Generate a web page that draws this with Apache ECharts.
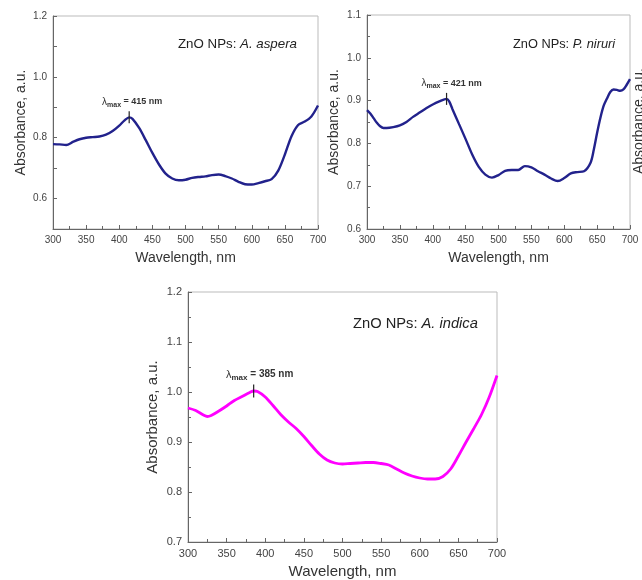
<!DOCTYPE html>
<html>
<head>
<meta charset="utf-8">
<script src="https://cdn.jsdelivr.net/npm/echarts@6/dist/echarts.min.js"></script>
<style>
  html, body { margin: 0; padding: 0; background: #fff; }
  #chart { width: 642px; height: 580px; }
</style>
</head>
<body>
<div id="chart"></div>
<script>
// A. aspera
const asperaNm = [300, 310, 320, 330, 340, 350, 360, 370, 380, 390, 400, 408, 415, 420, 430, 440, 450, 460, 470, 480, 490, 500, 510, 520, 530, 540, 550, 560, 570, 580, 590, 600, 610, 620, 630, 640, 650, 660, 670, 680, 690, 700]
const asperaAbs = [0.779, 0.778, 0.776, 0.786, 0.795, 0.800, 0.802, 0.804, 0.810, 0.822, 0.840, 0.857, 0.867, 0.862, 0.832, 0.792, 0.750, 0.712, 0.682, 0.666, 0.660, 0.662, 0.668, 0.671, 0.673, 0.677, 0.679, 0.674, 0.666, 0.655, 0.647, 0.646, 0.651, 0.657, 0.664, 0.692, 0.745, 0.805, 0.842, 0.853, 0.870, 0.906]

// P. niruri
const niruriNm = [300, 305, 310, 315, 320, 325, 330, 340, 350, 360, 370, 380, 390, 400, 410, 421, 425, 430, 440, 450, 460, 470, 480, 490, 500, 510, 520, 530, 540, 550, 560, 570, 580, 590, 600, 610, 620, 630, 640, 645, 650, 655, 660, 665, 670, 675, 680, 685, 690, 695, 700]
const niruriAbs = [0.878, 0.870, 0.859, 0.848, 0.840, 0.836, 0.836, 0.838, 0.842, 0.850, 0.862, 0.872, 0.882, 0.891, 0.898, 0.904, 0.898, 0.880, 0.845, 0.810, 0.774, 0.745, 0.727, 0.720, 0.726, 0.736, 0.738, 0.738, 0.747, 0.744, 0.735, 0.727, 0.718, 0.712, 0.719, 0.730, 0.733, 0.735, 0.755, 0.786, 0.825, 0.860, 0.888, 0.905, 0.920, 0.926, 0.925, 0.923, 0.926, 0.937, 0.950]

// A. indica
const indicaNm = [300, 310, 320, 325, 330, 340, 350, 360, 370, 380, 385, 390, 400, 410, 420, 430, 440, 450, 460, 470, 480, 490, 500, 510, 520, 530, 540, 550, 560, 570, 580, 590, 600, 610, 620, 630, 640, 650, 660, 670, 680, 690, 700]
const indicaAbs = [0.968, 0.963, 0.954, 0.951, 0.953, 0.962, 0.972, 0.983, 0.991, 0.999, 1.002, 1.001, 0.990, 0.973, 0.955, 0.940, 0.927, 0.911, 0.893, 0.876, 0.864, 0.858, 0.856, 0.857, 0.858, 0.859, 0.859, 0.857, 0.854, 0.846, 0.838, 0.832, 0.828, 0.826, 0.826, 0.831, 0.846, 0.872, 0.900, 0.927, 0.955, 0.990, 1.033]

// peaks: [wavelength, absorbance]
const peakAspera = [415, 0.867]
const peakNiruri = [421, 0.904]
const peakIndica = [385, 1.002]

const zip = (xs, ys) => xs.map((x, i) => [x, ys[i]])

const font = 'Liberation Sans, Arial, sans-serif'
const tickColor = '#444'

function xAxisFor(gridIndex, fontSize, nameSize, nameGap) {
  return {
    gridIndex,
    type: 'value',
    min: 300, max: 700, interval: 50,
    name: 'Wavelength, nm',
    nameLocation: 'middle',
    nameGap,
    nameTextStyle: { fontFamily: font, fontSize: nameSize, color: '#333' },
    axisLine: { lineStyle: { color: '#666', width: 1 } },
    axisTick: { inside: true, length: 4, lineStyle: { color: '#666' } },
    minorTick: { show: true, splitNumber: 2, length: 3, lineStyle: { color: '#666' } },
    axisLabel: { fontFamily: font, fontSize, color: tickColor, margin: 6 },
    splitLine: { show: false }
  }
}

function yAxisFor(gridIndex, min, max, interval, fontSize, nameSize, nameGap, labelStep) {
  return {
    gridIndex,
    type: 'value',
    min, max, interval,
    name: 'Absorbance, a.u.',
    nameLocation: 'middle',
    nameGap,
    nameTextStyle: { fontFamily: font, fontSize: nameSize, color: '#333' },
    axisLine: { show: true, lineStyle: { color: '#666', width: 1 } },
    axisTick: { inside: true, length: 4, lineStyle: { color: '#666' } },
    minorTick: { show: labelStep === 1, splitNumber: 2, length: 3, lineStyle: { color: '#666' } },
    axisLabel: {
      fontFamily: font, fontSize, color: tickColor, margin: 6,
      formatter: v => (Math.round(v * 10) % labelStep === 0 ? v.toFixed(1) : '')
    },
    splitLine: { show: false }
  }
}

function peakMark(peak, fontSize, dx) {
  return {
    symbol: 'rect',
    symbolSize: [1.2, fontSize + 3],
    silent: true,
    itemStyle: { color: '#222' },
    label: {
      show: true,
      position: 'top',
      distance: 3,
      offset: [dx, 0],
      formatter: '{l|λ}{s|max}{b| = ' + peak[0] + ' nm}',
      rich: {
        l: { fontFamily: font, fontSize: fontSize + 1, color: '#333' },
        s: { fontFamily: font, fontSize: fontSize - 2, fontWeight: 'bold', color: '#333', verticalAlign: 'bottom', padding: [6, 0, 0, 0] },
        b: { fontFamily: font, fontSize, fontWeight: 'bold', color: '#333' }
      }
    },
    data: [{ coord: peak }]
  }
}

function lineSeries(idx, data, color, width, peak, fontSize, dx) {
  return {
    type: 'line',
    xAxisIndex: idx,
    yAxisIndex: idx,
    data,
    smooth: 0.3,
    showSymbol: false,
    lineStyle: { color, width },
    itemStyle: { color },
    markPoint: peakMark(peak, fontSize, dx)
  }
}

function tagTitle(left, top, name, fontSize) {
  return {
    left, top,
    padding: 0,
    text: '{n|ZnO NPs: }{i|' + name + '}',
    textStyle: {
      fontWeight: 'normal',
      rich: {
        n: { fontFamily: font, fontSize, fontWeight: 'normal', color: '#222' },
        i: { fontFamily: font, fontSize, fontWeight: 'normal', fontStyle: 'italic', color: '#222' }
      }
    }
  }
}

const chart = echarts.init(document.getElementById('chart'))
chart.setOption({
  backgroundColor: '#fff',
  animation: false,
  title: [
    tagTitle(178, 38, 'A. aspera', 13.3),
    tagTitle(513, 38, 'P. niruri', 12.8),
    tagTitle(353, 316, 'A. indica', 14.7)
  ],
  grid: [
    { left: 53, right: 324, top: 16, bottom: 351, show: true, borderColor: '#bbb', borderWidth: 1 },
    { left: 367, right: 12, top: 15, bottom: 351, show: true, borderColor: '#bbb', borderWidth: 1 },
    { left: 188, right: 145, top: 292, bottom: 37, show: true, borderColor: '#bbb', borderWidth: 1 }
  ],
  xAxis: [
    xAxisFor(0, 10, 14, 22),
    xAxisFor(1, 10, 14, 22),
    xAxisFor(2, 11, 15, 22)
  ],
  yAxis: [
    yAxisFor(0, 0.5, 1.2, 0.1, 10, 14, 25, 2),
    yAxisFor(1, 0.6, 1.1, 0.1, 10, 14, 26, 1),
    yAxisFor(2, 0.7, 1.2, 0.1, 11, 15, 28, 1)
  ],
  series: [
    lineSeries(0, zip(asperaNm, asperaAbs), '#22228c', 2.4, peakAspera, 9, 3),
    lineSeries(1, zip(niruriNm, niruriAbs), '#22228c', 2.4, peakNiruri, 9, 5),
    lineSeries(2, zip(indicaNm, indicaAbs), '#ff00ff', 2.8, peakIndica, 10, 6)
  ],
  graphic: [
    {
      type: 'text',
      x: 632, y: 174,
      rotation: Math.PI / 2,
      style: { text: 'Absorbance, a.u.', fontFamily: font, fontSize: 14, fill: '#333' }
    }
  ]
})
</script>
</body>
</html>
